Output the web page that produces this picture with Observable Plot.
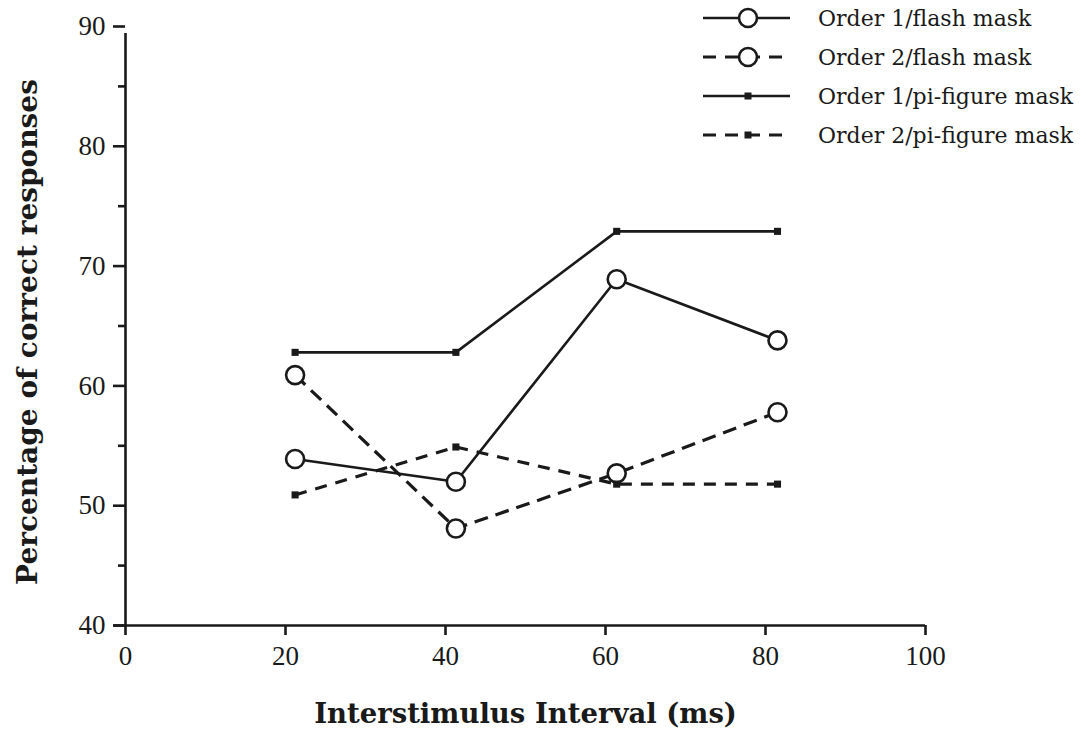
<!DOCTYPE html>
<html>
<head>
<meta charset="utf-8">
<script src="https://cdn.jsdelivr.net/npm/d3@7"></script>
<script src="https://cdn.jsdelivr.net/npm/@observablehq/plot@0.6"></script>
<style>
  html, body { margin: 0; padding: 0; background: #fff; }
  #wrap { position: relative; width: 1087px; height: 731px; overflow: hidden; }
  #legend { position: absolute; left: 700px; top: 0px; }
</style>
</head>
<body>
<div id="wrap"><div id="chart"></div><div id="legend"></div></div>
<script>
// ---- data ----
const isi = [21.2, 41.3, 61.4, 81.5];                 // interstimulus interval (ms)
const order1Flash = [53.9, 52.0, 68.9, 63.8];
const order2Flash = [60.9, 48.1, 52.7, 57.8];
const order1Pi = [62.8, 62.8, 72.9, 72.9];
const order2Pi = [50.9, 54.9, 51.8, 51.8];
const seriesNames = ["Order 1/flash mask", "Order 2/flash mask", "Order 1/pi-figure mask", "Order 2/pi-figure mask"];
const xTicks = [0, 20, 40, 60, 80, 100];
const yTicks = [40, 50, 60, 70, 80, 90];
const yMinorTicks = [45, 55, 65, 75, 85];
const xTitle = "Interstimulus Interval (ms)";
const yTitle = "Percentage of correct responses";

// ---- build table ----
const seriesValues = [order1Flash, order2Flash, order1Pi, order2Pi];
const seriesStyle = [
  {dash: null, symbol: "circle"},
  {dash: "14,8", symbol: "circle"},
  {dash: null, symbol: "square"},
  {dash: "12,9", symbol: "square"}
];
const rows = [];
seriesNames.forEach((name, i) => isi.forEach((x, j) => rows.push({series: name, isi: x, pct: seriesValues[i][j]})));
const ink = "#1a1a1a";

const lineMarks = seriesNames.map((name, i) => Plot.line(rows.filter(d => d.series === name), {
  x: "isi", y: "pct", stroke: ink,
  strokeWidth: seriesStyle[i].dash ? 3.2 : 2.6,
  strokeDasharray: seriesStyle[i].dash,
  strokeLinecap: "butt"
}));
const circleRows = rows.filter(d => seriesStyle[seriesNames.indexOf(d.series)].symbol === "circle");
const squareRows = rows.filter(d => seriesStyle[seriesNames.indexOf(d.series)].symbol === "square");

const chart = Plot.plot({
  width: 1087, height: 731,
  marginLeft: 125, marginRight: 162, marginTop: 26, marginBottom: 106,
  x: {domain: [xTicks[0], xTicks[xTicks.length - 1]], label: null},
  y: {domain: [yTicks[0], yTicks[yTicks.length - 1]], label: null},
  style: {fontFamily: "'Liberation Serif', serif", fontSize: "27px", color: ink, background: "white"},
  marks: [
    Plot.ruleX([xTicks[0]], {y1: yTicks[0], y2: yTicks[yTicks.length - 1], insetBottom: -7, stroke: ink, strokeWidth: 2.6}),
    Plot.ruleY([yTicks[0]], {x1: xTicks[0], x2: xTicks[xTicks.length - 1], insetLeft: -12, stroke: ink, strokeWidth: 2.6}),
    Plot.axisY(yTicks, {tickSize: 12, tickPadding: 8, strokeWidth: 2.6, label: null, fontSize: 27}),
    Plot.axisY(yMinorTicks, {tickSize: 7, tickFormat: () => "", strokeWidth: 2.6, label: null}),
    Plot.axisX(xTicks, {tickSize: 10, tickPadding: 10, strokeWidth: 2.6, label: null, fontSize: 27}),
    ...lineMarks,
    Plot.dot(circleRows, {x: "isi", y: "pct", r: 9, symbol: "circle", fill: "white", stroke: ink, strokeWidth: 2.6}),
    Plot.dot(squareRows, {x: "isi", y: "pct", r: 4, symbol: "square", fill: ink, stroke: "none"}),
    Plot.text([yTitle], {frameAnchor: "left", textAnchor: "middle", rotate: -90, dx: -97, dy: 6, fontSize: 28, fontWeight: "bold",
      fontFamily: "'DejaVu Serif', serif", fill: ink}),
    Plot.text([xTitle], {frameAnchor: "bottom", dy: 97, fontSize: 27.5, fontWeight: "bold",
      fontFamily: "'DejaVu Serif', serif", fill: ink})
  ]
});
document.getElementById("chart").appendChild(chart);

// ---- legend (overlay, top right) ----
const lg = d3.select("#legend").append("svg").attr("width", 387).attr("height", 150);
seriesNames.forEach((name, i) => {
  const y = 18 + 39 * i;
  const g = lg.append("g");
  g.append("line").attr("x1", 3).attr("x2", 90).attr("y1", y).attr("y2", y)
    .attr("stroke", ink).attr("stroke-width", seriesStyle[i].dash ? 3.2 : 2.6)
    .attr("stroke-dasharray", seriesStyle[i].dash ? "13,9" : null);
  if (seriesStyle[i].symbol === "circle") {
    g.append("circle").attr("cx", 48).attr("cy", y).attr("r", 9)
      .attr("fill", "white").attr("stroke", ink).attr("stroke-width", 2.6);
  } else {
    g.append("rect").attr("x", 44.5).attr("y", y - 3.5).attr("width", 7).attr("height", 7).attr("fill", ink);
  }
  g.append("text").attr("x", 118).attr("y", y).attr("dy", "0.35em")
    .attr("font-family", "'DejaVu Serif', serif").attr("font-size", 22).attr("fill", ink)
    .text(name);
});
</script>
</body>
</html>
